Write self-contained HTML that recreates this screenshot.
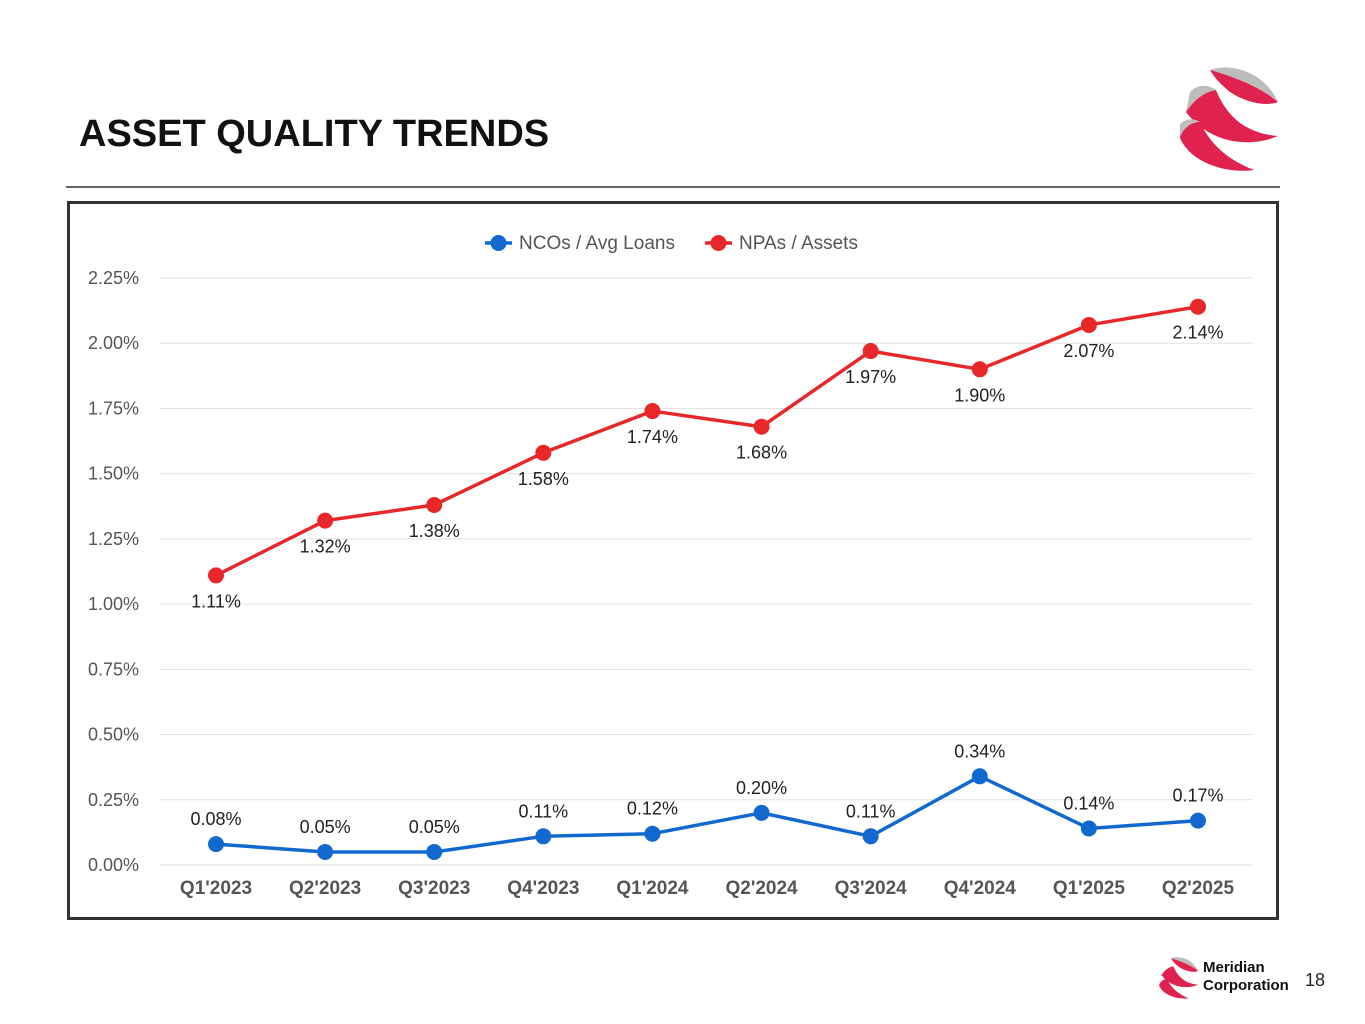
<!DOCTYPE html>
<html><head><meta charset="utf-8"><style>
body{margin:0;width:1365px;height:1024px;background:#fff;font-family:"Liberation Sans",Arial,sans-serif;overflow:hidden;position:relative}
#title{position:absolute;left:79px;top:113px;font-size:38px;font-weight:bold;color:#111;margin:0}
#rule{position:absolute;left:66px;top:186px;width:1214px;height:2px;background:#666}
#frame{position:absolute;left:67px;top:201px;width:1206px;height:713px;border:3px solid #333}
svg text{font-family:"Liberation Sans",Arial,sans-serif}
#brand{position:absolute;left:1203px;top:959px;font-size:15px;font-weight:bold;color:#111;line-height:18px}
#pnum{position:absolute;left:1305px;top:970px;font-size:18px;color:#222}
</style></head><body>
<h1 id="title">ASSET QUALITY TRENDS</h1>
<div id="rule"></div>
<svg style="position:absolute;left:1170px;top:62px" width="115" height="115" viewBox="0 0 115 115">
<path d="M40 8 C60 0 95 10 108 40 C90 25 65 15 40 8Z" fill="#bdbdbd"/>
<path d="M40 8 C65 15 90 25 108 40 C95 45 75 40 60 30 C50 22 44 15 40 8Z" fill="#e0234e"/>
<path d="M20 30 C28 22 38 22 46 28 C34 30 24 38 16 50Z" fill="#bdbdbd"/>
<path d="M16 50 C24 38 34 30 46 28 C58 58 80 72 108 74 C80 86 40 82 16 50Z" fill="#e0234e"/>
<path d="M10 62 C16 56 24 56 30 60 C20 62 12 70 10 76Z" fill="#bdbdbd"/>
<path d="M10 76 C12 68 20 60 30 60 C40 82 58 98 84 108 C55 112 20 100 10 76Z" fill="#e0234e"/>
</svg>
<div id="frame"></div>
<svg id="chart" style="position:absolute;left:0;top:0" width="1365" height="1024"></svg>
<svg style="position:absolute;left:1155px;top:955px" width="46" height="46" viewBox="0 0 115 115">
<path d="M40 8 C60 0 95 10 108 40 C90 25 65 15 40 8Z" fill="#bdbdbd"/>
<path d="M40 8 C65 15 90 25 108 40 C95 45 75 40 60 30 C50 22 44 15 40 8Z" fill="#e0234e"/>
<path d="M16 50 C24 38 34 30 46 28 C58 58 80 72 108 74 C80 86 40 82 16 50Z" fill="#e0234e"/>
<path d="M10 76 C12 68 20 60 30 60 C40 82 58 98 84 108 C55 112 20 100 10 76Z" fill="#e0234e"/>
</svg>
<div id="brand">Meridian<br>Corporation</div>
<div id="pnum">18</div>
<script>
const categories=["Q1'2023","Q2'2023","Q3'2023","Q4'2023","Q1'2024","Q2'2024","Q3'2024","Q4'2024","Q1'2025","Q2'2025"];
const ncoValues=[0.08,0.05,0.05,0.11,0.12,0.20,0.11,0.34,0.14,0.17];
const npaValues=[1.11,1.32,1.38,1.58,1.74,1.68,1.97,1.90,2.07,2.14];
const yTicks=[0,0.25,0.5,0.75,1.0,1.25,1.5,1.75,2.0,2.25];
const seriesNames=["NCOs / Avg Loans","NPAs / Assets"];
const NS="http://www.w3.org/2000/svg";
const svg=document.getElementById('chart');
const x=i=>216+i*(1198-216)/(categories.length-1);
const y=v=>865-v*(865-278)/2.25;
function mk(t,a,txt){const e=document.createElementNS(NS,t);for(const k in a)e.setAttribute(k,a[k]);if(txt!==undefined)e.textContent=txt;svg.appendChild(e);return e;}
yTicks.forEach(t=>{
  const g=mk('line',{x1:160,x2:1253,y1:y(t),y2:y(t),stroke:'#e2e2e2','stroke-width':1});
  
  
  const l=mk('text',{x:139,y:y(t)+6,'text-anchor':'end','font-size':18,fill:'#555'},t.toFixed(2)+'%');
  
  
});
categories.forEach((c,i)=>{
  const l=mk('text',{x:x(i),y:894,'text-anchor':'middle','font-size':19,'font-weight':'bold',fill:'#555'},c);
  
  
});
function series(vals,color,name,dy){
  const p=mk('polyline',{points:vals.map((v,i)=>x(i)+','+y(v)).join(' '),fill:'none',stroke:color,'stroke-width':3.5,'stroke-linejoin':'round'});
  
  
  vals.forEach((v,i)=>{
    const c=mk('circle',{cx:x(i),cy:y(v),r:8,fill:color});
    
    
    const t=mk('text',{x:x(i),y:y(v)+dy,'text-anchor':'middle','font-size':18,fill:'#222'},v.toFixed(2)+'%');
    
    
  });
}
series(ncoValues,'#1169cf','nco',-19);
series(npaValues,'#e8272a','npa',32);
[[485,'#1169cf',519,0],[705,'#e8272a',739,1]].forEach(([lx,col,tx,k])=>{
  const l=mk('line',{x1:lx,x2:lx+27,y1:243,y2:243,stroke:col,'stroke-width':3.5});
  
  
  mk('circle',{cx:lx+13.5,cy:243,r:8,fill:col});
  const t=mk('text',{x:tx,y:249,'font-size':19,fill:'#555'},seriesNames[k]);
  
  
});
</script>
</body></html>
